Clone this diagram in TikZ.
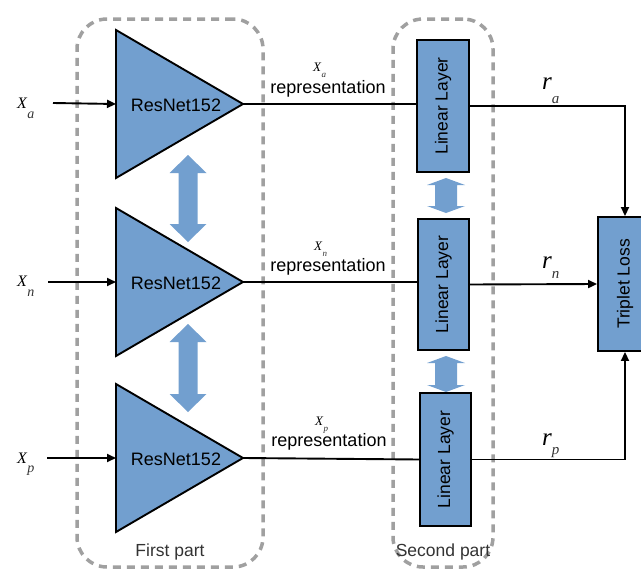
\documentclass[tikz,border=0pt]{standalone}
\usepackage{fontspec}
\setmainfont{Liberation Serif}
\setsansfont{Liberation Sans}
\usetikzlibrary{arrows.meta}
\definecolor{lobue}{HTML}{729FCF}
\definecolor{grpgray}{HTML}{A0A0A0}
\definecolor{txtgray}{HTML}{333333}
\newcommand\dblarr[6]{% x, ytop, ybot, half shaft, half head, head length
  \fill[lobue] (#1,#2) -- ({#1+#5},{#2+#6}) -- ({#1+#4},{#2+#6}) -- ({#1+#4},{#3-#6})
   -- ({#1+#5},{#3-#6}) -- (#1,#3) -- ({#1-#5},{#3-#6}) -- ({#1-#4},{#3-#6})
   -- ({#1-#4},{#2+#6}) -- ({#1-#5},{#2+#6}) -- cycle;}
% subscript helper: kern, drop, size, letter
\newcommand\subsc[4]{\hspace{#1}\raisebox{-#2}{\fontsize{#3}{#3}\selectfont\textcolor{txtgray}{#4}}}
\begin{document}
\begin{tikzpicture}[x=1pt,y=-1pt,
  blk/.style={draw=black, line width=1.9pt, fill=lobue},
  box/.style={blk, inner sep=0pt, font=\sffamily\fontsize{17.5}{18}\selectfont},
  grp/.style={draw=grpgray, line width=3.5pt, dash pattern=on 8pt off 6pt, rounded corners=30pt, inner sep=0pt},
  conn/.style={draw=black, line width=1.9pt},
  tip/.style={-{Triangle[length=9pt,width=8pt]}},
  sans/.style={font=\sffamily\fontsize{18}{18}\selectfont, inner sep=0pt},
  partlbl/.style={font=\sffamily\fontsize{17.5}{18}\selectfont, text=txtgray, inner sep=0pt},
  bigX/.style={font=\itshape\fontsize{16}{16}\selectfont, inner sep=0pt, anchor=base west},
  smX/.style={font=\itshape\fontsize{13}{13}\selectfont, inner sep=0pt, anchor=base west},
  rX/.style={font=\itshape\fontsize{25}{25}\selectfont, inner sep=0pt, anchor=base west}]
\useasboundingbox (0,0) rectangle (641,570);
\clip (0,0) rectangle (641,570);

% groups
\node[grp, minimum width=186pt, minimum height=548pt] (g1) at (170,293) {};
\node[grp, minimum width=100pt, minimum height=548pt] (g2) at (443,293) {};
\node[partlbl] (p1) at (170,552) {First part};
\node[partlbl] (p2) at (443,552) {Second part};

% triangles (ResNet152)
\foreach \c/\n in {104/1,282/2,458/3}{
  \draw[blk, line join=miter] (116,\c-74) -- (243,\c) -- (116,\c+74) -- cycle;
  \coordinate (a\n) at (243,\c);
  \coordinate (w\n) at (116,\c);
  \node[sans] (rn\n) at (176,\c+1) {ResNet152};
}

% double arrows
\dblarr{188}{155}{242}{9.5}{18.5}{18}
\dblarr{188}{324}{412}{9.5}{18.5}{18}
\dblarr{446}{178}{213}{11}{19}{7}
\dblarr{446}{356}{392}{11}{19}{7}

% inputs
\coordinate (i1) at (53,103);
\coordinate (i2) at (48,282);
\coordinate (i3) at (47,458);
\draw[conn, tip] (i1) -- (w1);
\draw[conn, tip] (i2) -- (w2);
\draw[conn, tip] (i3) -- (w3);
\node[bigX] (xa) at (17,108) {X\subsc{0.3pt}{10pt}{14}{a}};
\node[bigX] (xn) at (17,286) {X\subsc{0.3pt}{10pt}{14}{n}};
\node[bigX] (xp) at (17,463) {X\subsc{0.3pt}{9pt}{14}{p}};

% linear layers
\node[box, minimum width=52pt, minimum height=132pt] (ll1) at (443,106) {\rotatebox{90}{Linear Layer}};
\node[box, minimum width=51pt, minimum height=131pt] (ll2) at (443.5,284.5) {\rotatebox{90}{Linear Layer}};
\node[box, minimum width=51pt, minimum height=133pt] (ll3) at (445.5,459.5) {\rotatebox{90}{Linear Layer}};

% triplet loss
\node[box, minimum width=54pt, minimum height=134pt] (tl) at (625,284) {\rotatebox{90}{Triplet Loss}};

% representation connectors
\draw[conn] (a1) -- (a1 -| ll1.west);
\draw[conn] (a2) -- (a2 -| ll2.west);
\draw[conn] (a3) -- (ll3.west);
\node[smX] (ra1) at (313,71) {X\subsc{0.5pt}{6pt}{9}{a}};
\node[sans] (rep1) at (328,89) {representation};
\node[smX] (ra2) at (314,250) {X\subsc{0.5pt}{6pt}{9}{n}};
\node[sans] (rep2) at (328,267) {representation};
\node[smX] (ra3) at (315,425) {X\subsc{0.5pt}{6pt}{9}{p}};
\node[sans] (rep3) at (329,442) {representation};

% outputs
\draw[conn, tip] (ll1.east) -| (tl.north);
\draw[conn, tip] (ll2.east) -- (tl.west);
\draw[conn, tip] (ll3.east) -| (tl.south);
\node[rX] (r1) at (542,89) {r\subsc{0pt}{14pt}{15}{a}};
\node[rX] (r2) at (542,268) {r\subsc{0pt}{10pt}{15}{n}};
\node[rX] (r3) at (542,445) {r\subsc{0pt}{9pt}{15}{p}};
\end{tikzpicture}
\end{document}
